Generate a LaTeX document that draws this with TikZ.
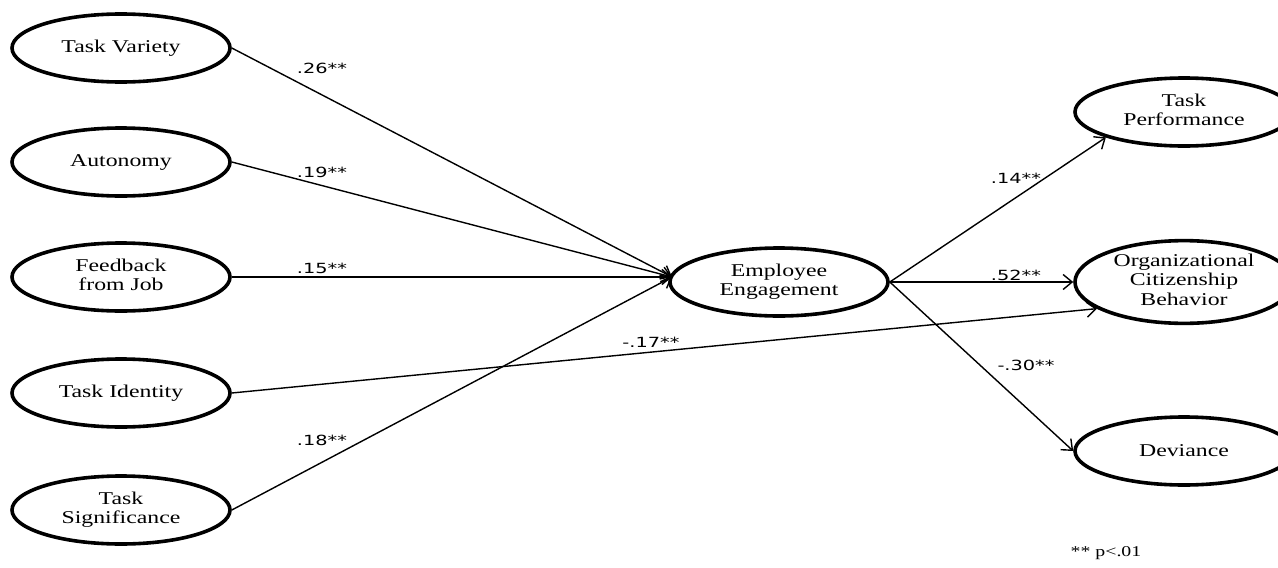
\documentclass[tikz,border=0pt]{standalone}
\usepackage{fontspec}
\usepackage{graphicx}
\setmainfont{Liberation Serif}
\newfontfamily\labfont{DejaVu Sans}
\usetikzlibrary{shapes.geometric,arrows.meta}

% horizontally widened text
\newcommand{\wide}[1]{\scalebox{1.32}[1]{#1}}
\newcommand{\widelab}[1]{\scalebox{1.38}[1]{#1}}
\newcommand{\lines}[1]{\wide{\begin{tabular}{@{}c@{}}#1\end{tabular}}}

\tikzset{
  construct/.style={ellipse, draw, line width=3.6pt, minimum width=218pt,
    minimum height=68pt, inner sep=0pt,
    font=\fontsize{18}{19.5}\selectfont},
  path/.style={line width=1.4pt, -{Straight Barb[length=9pt,width=15pt,line width=1.4pt]}},
  coef/.style={font=\labfont\fontsize{14}{16}\selectfont, inner sep=0pt},
}

\begin{document}
\begin{tikzpicture}[x=1pt,y=-1pt]
\useasboundingbox (0,0) rectangle (1278,568);
\clip (0,0) rectangle (1278,568);

% predictors
\node[construct] (tv) at (121,48)  {\wide{Task Variety}};
\node[construct] (au) at (121,162) {\wide{Autonomy}};
\node[construct] (fb) at (121,277) {\lines{Feedback\\from Job}};
\node[construct] (ti) at (121,393) {\wide{Task Identity}};
\node[construct] (ts) at (121,510) {\lines{Task\\Significance}};

% mediator
\node[construct] (ee) at (779,282) {\lines{Employee\\Engagement}};

% outcomes
\node[construct] (tp)  at (1184,112) {\lines{Task\\Performance}};
\node[construct] (ocb) at (1184,282) {\lines{Organizational\\Citizenship\\Behavior}};
\node[construct] (dev) at (1184,451) {\wide{Deviance}};

\coordinate (ein) at (672,277);

% paths into engagement
\draw[path] (tv.east) -- (ein);
\draw[path] (au.east) -- (ein);
\draw[path] (fb.east) -- (ein);
\draw[path] (ts.east) -- (ein);
% direct path
\draw[path] (ti.east) -- (ocb.197);

% paths out of engagement
\draw[path] (ee.east) -- (tp.198);
\draw[path] (ee.east) -- (ocb.west);
\draw[path] (ee.east) -- (dev.180);

% coefficients
\node[coef] (c1) at (322,68)  {\widelab{.26**}};
\node[coef] (c2) at (322,172) {\widelab{.19**}};
\node[coef] (c3) at (322,268) {\widelab{.15**}};
\node[coef] (c4) at (322,440) {\widelab{.18**}};
\node[coef] (c5) at (651,342) {\widelab{-.17**}};
\node[coef] (c6) at (1016,178) {\widelab{.14**}};
\node[coef] (c7) at (1016,275) {\widelab{.52**}};
\node[coef] (c8) at (1026,365) {\widelab{-.30**}};

\node[font=\fontsize{15}{18}\selectfont, inner sep=0pt] (note) at (1106,553) {\wide{** p<.01}};
\end{tikzpicture}
\end{document}
